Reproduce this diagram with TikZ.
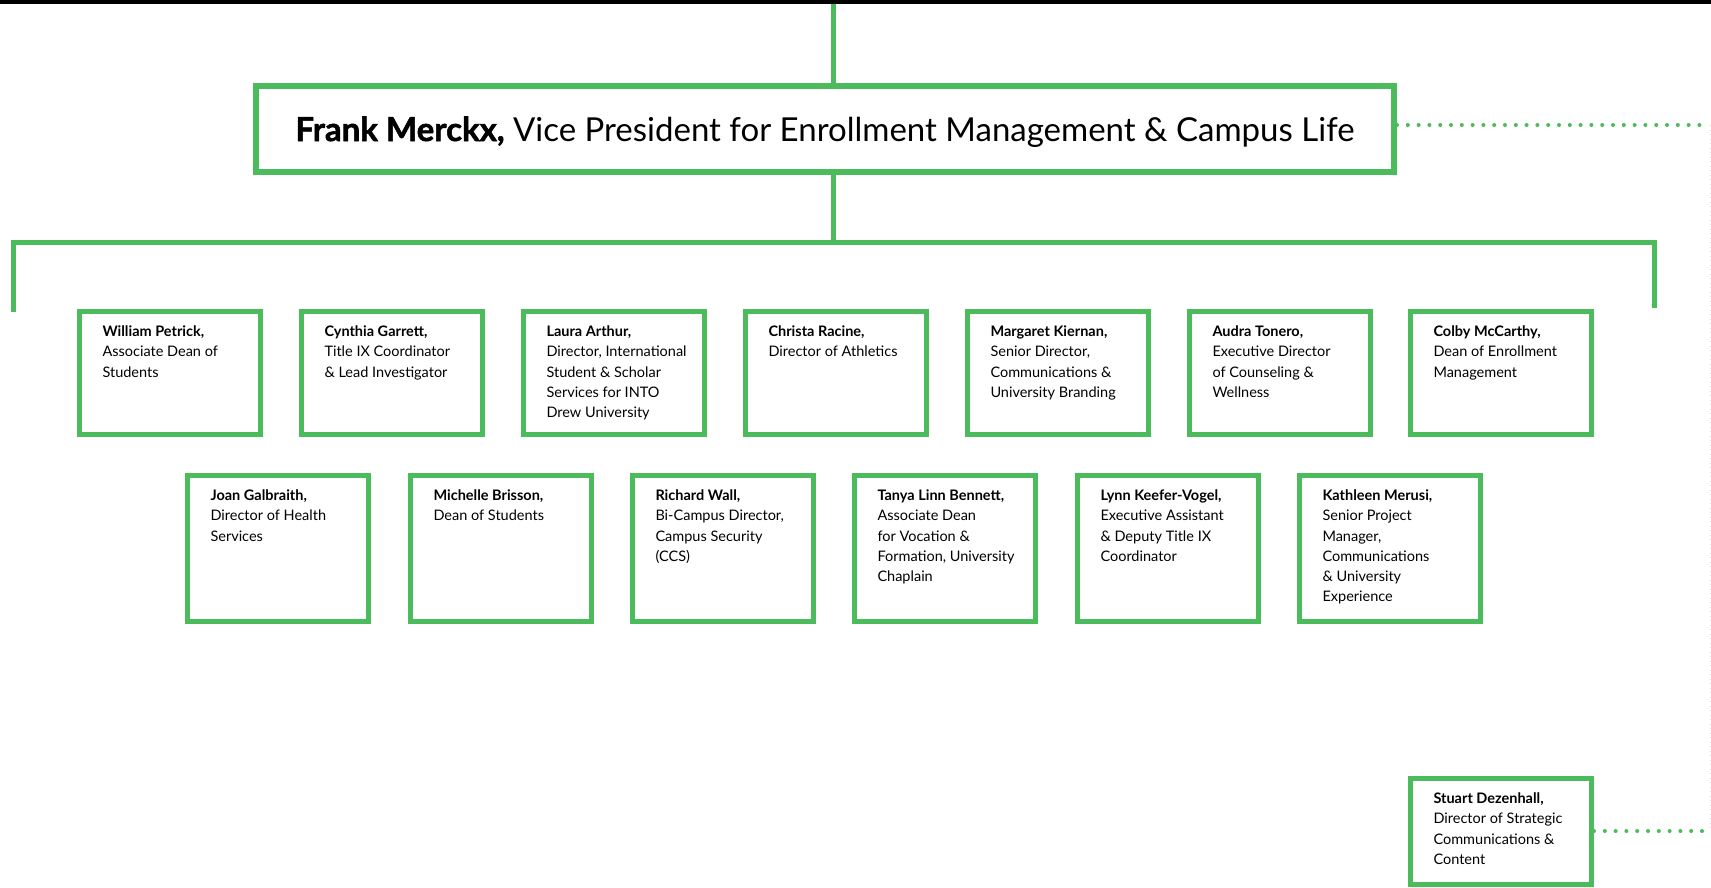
\documentclass[tikz,border=0pt]{standalone}
\usepackage{fontspec}
\setmainfont{Lato}
\newfontfamily\heavyfont[BoldFeatures={FakeBold=1.6}]{Lato}
\usetikzlibrary{positioning}

\definecolor{drewgreen}{RGB}{76,187,91}
\newcommand{\card}[3]{\parbox[t][#1][t]{181pt}{\raggedright\leftskip=23pt\strut\textbf{#2}\\#3}}

\begin{document}
\begin{tikzpicture}[x=1pt,y=-1pt,
  link/.style={draw=drewgreen, line width=5pt},
  dots/.style={draw=drewgreen, line width=4pt, line cap=round, dash pattern=on 0pt off 10.8pt},
  faintdots/.style={draw=black!12, line width=1pt, dash pattern=on 1pt off 3.5pt},
  titlebox/.style={draw=drewgreen, line width=6pt, outer sep=3pt, inner sep=0pt,
    minimum width=1138pt, minimum height=86pt, text height=25pt, text depth=1pt,
    font=\fontsize{33pt}{39pt}\selectfont},
  card/.style={draw=drewgreen, line width=5pt, outer sep=2.5pt, inner xsep=0pt,
    inner ysep=11pt, anchor=north west, font=\fontsize{14.5pt}{20.2pt}\selectfont}]
\useasboundingbox (0,0) rectangle (1711,887);
\fill[black] (0,0) rectangle (1711,4);

% vice president
\node[titlebox] (nVP) at (825,129) {{\heavyfont\bfseries Frank Merckx,} Vice President for Enrollment Management \& Campus Life};

% first row
\node[card] (nPetrick) at (77,309)   {\card{101pt}{William Petrick,}{Associate Dean of\\Students}};
\node[card] (nGarrett) at (299,309)  {\card{101pt}{Cynthia Garrett,}{Title IX Coordinator\\\& Lead Investigator}};
\node[card] (nArthur) at (521,309)   {\card{101pt}{Laura Arthur,}{Director, International\\Student \& Scholar\\Services for INTO\\Drew University}};
\node[card] (nRacine) at (743,309)   {\card{101pt}{Christa Racine,}{Director of Athletics}};
\node[card] (nKiernan) at (965,309)  {\card{101pt}{Margaret Kiernan,}{Senior Director,\\Communications \&\\University Branding}};
\node[card] (nTonero) at (1187,309)  {\card{101pt}{Audra Tonero,}{Executive Director\\of Counseling \&\\Wellness}};
\node[card] (nMcCarthy) at (1408,309) {\card{101pt}{Colby McCarthy,}{Dean of Enrollment\\Management}};

% second row
\node[card] (nGalbraith) at (185,473) {\card{124pt}{Joan Galbraith,}{Director of Health\\Services}};
\node[card] (nBrisson) at (408,473)   {\card{124pt}{Michelle Brisson,}{Dean of Students}};
\node[card] (nWall) at (630,473)      {\card{124pt}{Richard Wall,}{Bi-Campus Director,\\Campus Security\\(CCS)}};
\node[card] (nBennett) at (852,473)   {\card{124pt}{Tanya Linn Bennett,}{Associate Dean\\for Vocation \&\\Formation, University\\Chaplain}};
\node[card] (nKeefer) at (1075,473)   {\card{124pt}{Lynn Keefer-Vogel,}{Executive Assistant\\\& Deputy Title IX\\Coordinator}};
\node[card] (nMerusi) at (1297,473)   {\card{124pt}{Kathleen Merusi,}{Senior Project\\Manager,\\Communications\\\& University\\Experience}};

% dotted line report
\node[card] (nDezenhall) at (1408,776) {\card{84pt}{Stuart Dezenhall,}{Director of Strategic\\Communications \&\\Content}};

\coordinate (cTop) at (833,4);
\coordinate (cBarL) at (13.5,242.5);
\coordinate (cBarR) at (1654.5,242.5);
\coordinate (cLegL) at (13.5,312);
\coordinate (cLegR) at (1654.5,308);
\coordinate (cDotVP) at (1710,125);
\coordinate (cDotSD) at (1710,831);

\draw[link] (cTop) -- (cTop |- nVP.north);
\draw[link] (nVP.south -| cTop) -- (cTop |- cBarL);
\draw[link] (cLegL) -- (cBarL) -- (cBarR) -- (cLegR);
\draw[dots] (cDotVP -| nVP.east) -- ([xshift=-5pt]cDotVP);
\draw[dots] (cDotSD -| nDezenhall.east) -- ([xshift=-5pt]cDotSD);
\draw[faintdots] (cDotVP) -- (cDotSD);
\end{tikzpicture}
\end{document}
